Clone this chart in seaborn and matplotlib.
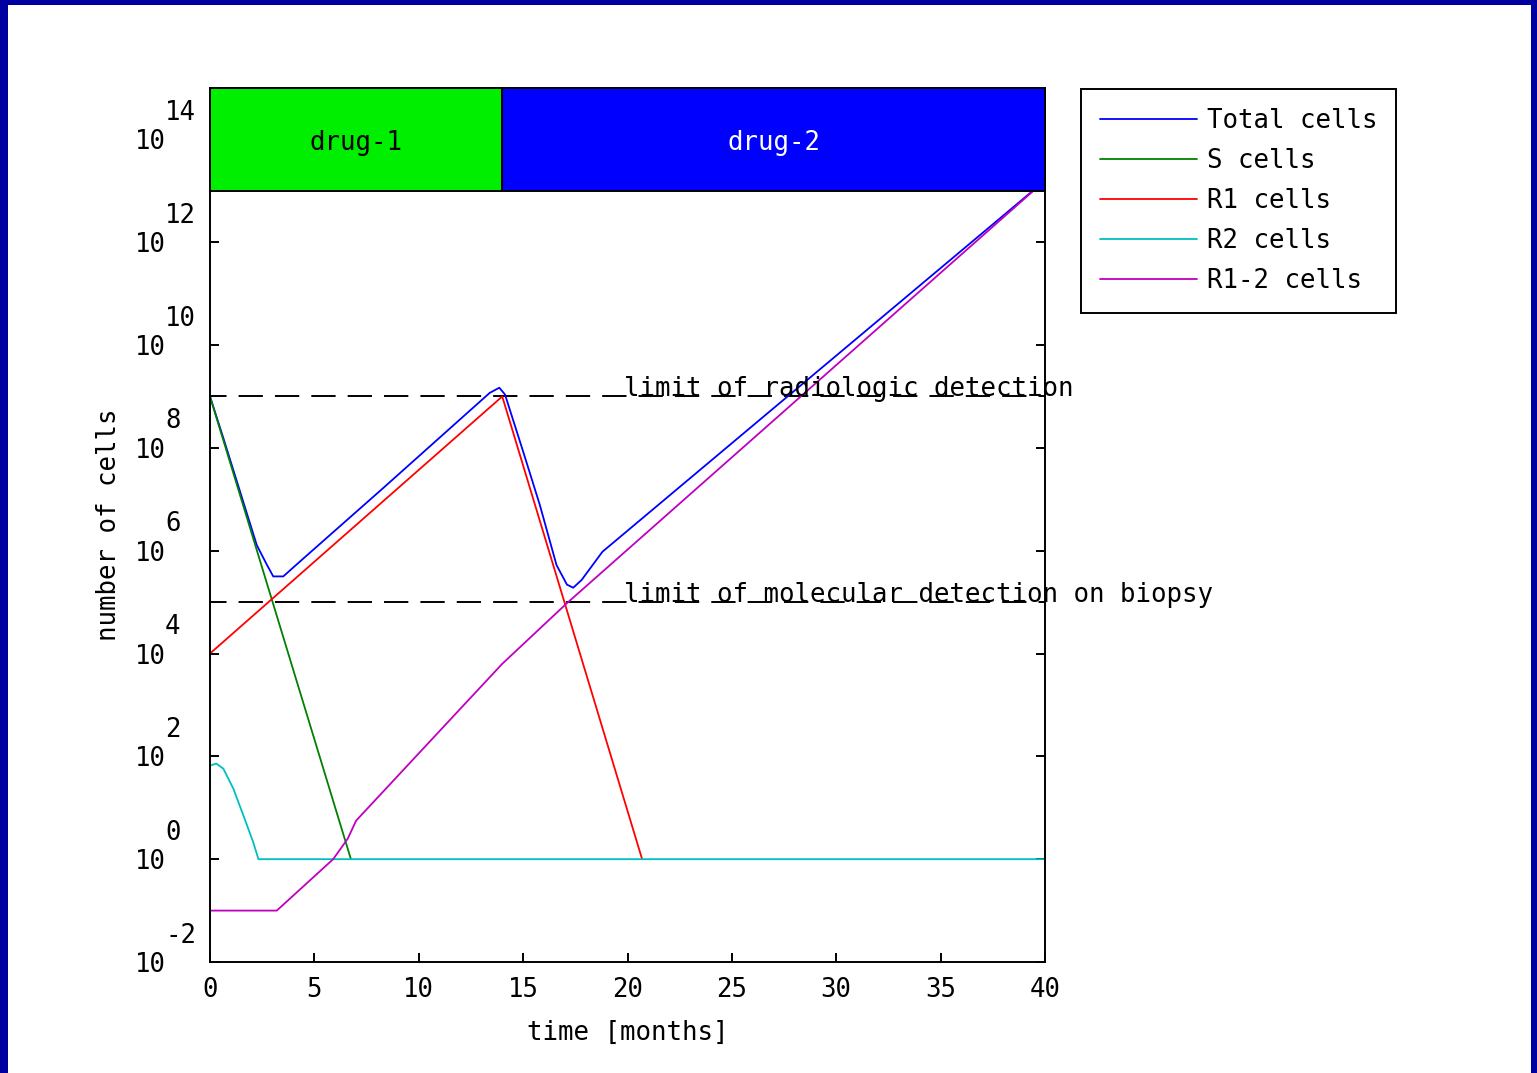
import numpy as np
import pandas as pd
import matplotlib
matplotlib.use("Agg")
import matplotlib.pyplot as plt
from matplotlib.patches import Rectangle
from matplotlib.ticker import FixedLocator, NullLocator
import seaborn as sns

# values: time in months, cell counts as log10 exponents
total_t = [0, 0.64, 1.44, 2.24, 2.72, 3.03, 3.51, 4.31, 8.3, 13.4, 13.86, 14.13,
           15.0, 15.8, 16.6, 17.1, 17.4, 17.8, 18.8, 40]
total_exp = [9.0, 8.19, 7.15, 6.11, 5.73, 5.50, 5.50, 5.79, 7.22, 9.07, 9.17, 9.04,
             7.93, 6.89, 5.72, 5.34, 5.28, 5.43, 5.98, 13.2]

s_t = [0, 6.75]
s_exp = [9.0, 0.0]

r1_t = [0, 14.0, 20.7]
r1_exp = [4.0, 9.0, 0.0]

r2_t = [0, 0.3, 0.64, 1.12, 1.6, 2.07, 2.32, 40]
r2_exp = [1.82, 1.86, 1.76, 1.37, 0.85, 0.33, 0.0, 0.0]

r12_t = [0, 3.2, 5.9, 6.6, 7.0, 12.3, 14.0, 17.1, 40]
r12_exp = [-1.0, -1.0, 0.0, 0.4, 0.75, 3.06, 3.8, 4.98, 13.2]

series_names = ["Total cells", "S cells", "R1 cells", "R2 cells", "R1-2 cells"]
series_colors = ["#0000ff", "#008000", "#ff0000", "#00bfbf", "#bf00bf"]

drug_names = ["drug-1", "drug-2"]
drug_start = [0, 14]
drug_end = [14, 40]
drug_colors = ["#00ee00", "#0000ff"]
drug_text_colors = ["black", "white"]

limit_exp = [9, 5]
limit_labels = ["limit of radiologic detection", "limit of molecular detection on biopsy"]

x_ticks = list(range(0, 41, 5))
y_tick_exp = list(range(-2, 15, 2))

FS = 18.5
sns.set_theme(style="ticks")
plt.rcParams.update({
    "font.family": ["DejaVu Sans Mono", "DejaVu Sans"],
    "font.size": FS,
    "axes.labelsize": FS,
    "xtick.labelsize": FS,
    "ytick.labelsize": FS,
    "legend.fontsize": FS,
    "axes.linewidth": 1.4,
    "axes.edgecolor": "black",
    "text.color": "black",
    "axes.labelcolor": "black",
    "xtick.color": "black",
    "ytick.color": "black",
})

fig = plt.figure(figsize=(15.37, 10.73), dpi=100)
fig.patch.set_facecolor("#0000a0")
fig.patches.append(Rectangle((8 / 1537, 0), (1531 - 8) / 1537, 1 - 5 / 1073,
                             transform=fig.transFigure, facecolor="white",
                             edgecolor="none", zorder=-10))

ax = fig.add_axes([210 / 1537, 1 - 962 / 1073, (1045 - 210) / 1537, (962 - 88) / 1073])
ax.set_facecolor("white")

frames = []
for name, t, e in zip(series_names, [total_t, s_t, r1_t, r2_t, r12_t],
                      [total_exp, s_exp, r1_exp, r2_exp, r12_exp]):
    frames.append(pd.DataFrame({"time": t, "cells": np.power(10.0, e), "series": name}))
df = pd.concat(frames, ignore_index=True)

for name, color in zip(series_names, series_colors):
    sub = df[df["series"] == name]
    sns.lineplot(data=sub, x="time", y="cells", color=color, lw=1.3, label=name,
                 ax=ax, sort=False, estimator=None)

ax.set_yscale("log")
ax.set_xlim(0, 40)
ax.set_ylim(1e-2, 1e15)

# detection limits
for e, txt in zip(limit_exp, limit_labels):
    ax.axhline(10.0 ** e, color="black", lw=1.4, ls=(4, (12.5, 6.2)), zorder=1.8)
    ax.text(19.85, 10.0 ** e, txt, ha="left", va="baseline", clip_on=False, zorder=5)

# drug schedule band
for name, a, b, c, tc in zip(drug_names, drug_start, drug_end, drug_colors, drug_text_colors):
    ax.add_patch(Rectangle((a, 1e13), b - a, 1e15 - 1e13, facecolor=c,
                           edgecolor="black", lw=1.4, zorder=3, clip_on=False))
    ax.text((a + b) / 2, 10 ** 13.93, name, ha="center", va="center", color=tc, zorder=4)

ax.xaxis.set_major_locator(FixedLocator(x_ticks))
ax.set_xticklabels([str(v) for v in x_ticks])
ax.yaxis.set_major_locator(FixedLocator([10.0 ** e for e in y_tick_exp]))
ax.yaxis.set_minor_locator(NullLocator())
ax.set_yticklabels(["10"] * len(y_tick_exp))
ax.tick_params(axis="x", direction="in", length=6.5, width=1.4, pad=11, bottom=True, top=False)
ax.tick_params(axis="y", direction="in", length=6.5, width=1.4, pad=32, left=True, right=True)

for e in y_tick_exp:
    ax.annotate(str(e), xy=(0, 10.0 ** e), xycoords=("axes fraction", "data"),
                xytext=(-32.4, 19.0), textcoords="offset points",
                ha="left", va="center", annotation_clip=False)

for sp in ax.spines.values():
    sp.set_visible(True)
    sp.set_color("black")
    sp.set_linewidth(1.4)

ax.set_xlabel("time [months]", labelpad=12)
ax.set_ylabel("number of cells", labelpad=9)

ax.legend(loc="upper left", bbox_to_anchor=(1081 / 1537, 1 - 89 / 1073),
          bbox_transform=fig.transFigure, borderaxespad=0, frameon=True,
          fancybox=False, framealpha=1, edgecolor="black", handlelength=3.8,
          handletextpad=0.4, labelspacing=0.55, borderpad=0.72)
ax.get_legend().get_frame().set_linewidth(1.4)

fig.savefig("out.png", dpi=100, facecolor=fig.get_facecolor())
